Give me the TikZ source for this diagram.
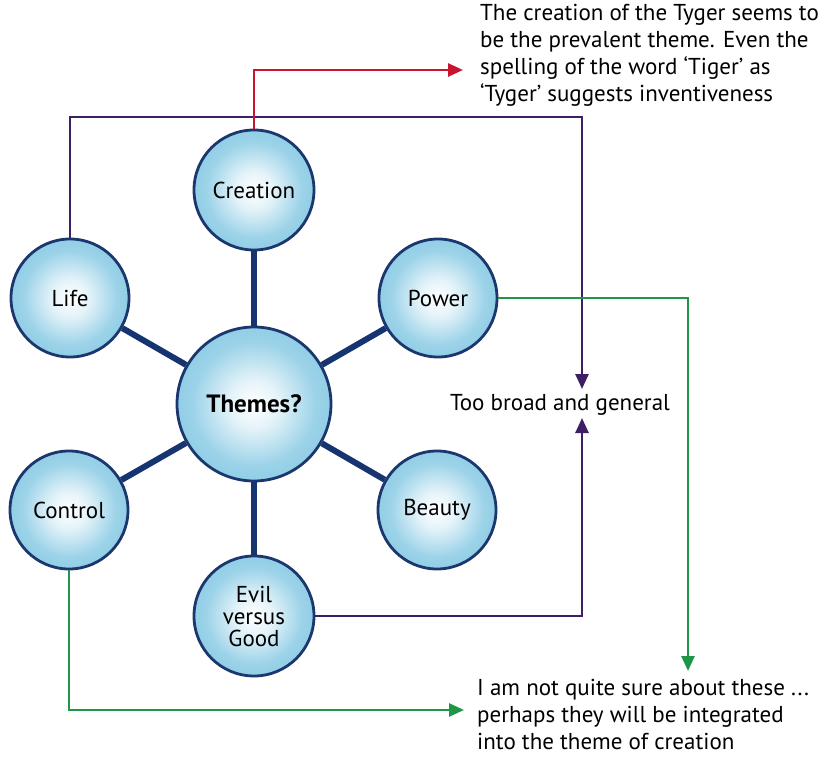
\documentclass[tikz,border=0pt]{standalone}
\usepackage{fontspec}
\setmainfont{PT Sans}
\usetikzlibrary{arrows.meta}
\definecolor{navy}{RGB}{27,55,110}
\definecolor{spokeblue}{RGB}{22,52,112}
\definecolor{ballblue}{RGB}{145,206,230}
\definecolor{redline}{RGB}{200,20,45}
\definecolor{purpleline}{RGB}{62,30,100}
\definecolor{greenline}{RGB}{30,150,70}
\pgfdeclareradialshading{ball}{\pgfpoint{0bp}{0bp}}{%
  color(0bp)=(white); color(8bp)=(white!75!ballblue);
  color(20bp)=(ballblue!90!white); color(25bp)=(ballblue); color(50bp)=(ballblue)}
\tikzset{
  ball/.style={circle, draw=navy, line width=2.8pt, shading=ball,
    minimum size=#1, inner sep=0pt, align=center,
    font=\fontsize{23}{24}\selectfont},
  ball/.default=118pt,
  spoke/.style={draw=spokeblue, line width=6pt},
  tip/.style={-{Triangle[length=15pt,width=13pt]}},
  redarrow/.style={tip, draw=redline, line width=2.6pt},
  purplearrow/.style={tip, draw=purpleline, line width=2.6pt},
  greenarrow/.style={tip, draw=greenline, line width=2.6pt},
  note/.style={align=left, inner sep=0pt, font=\fontsize{23}{27}\selectfont}
}
\begin{document}
\begin{tikzpicture}[x=1pt, y=-1pt]
\useasboundingbox (0,0) rectangle (825,757);

% centre hub and theme balls
\node[ball=154pt, font=\fontsize{25}{26}\selectfont\bfseries] (th) at (254,404) {Themes?};
\node[ball=120pt] (cr) at (254,190) {Creation};
\node[ball] (li) at (70,298) {Life};
\node[ball] (po) at (438,298) {Power};
\node[ball] (co) at (69,510) {Control};
\node[ball] (be) at (437,510) {Beauty};
\node[ball=120pt, font=\fontsize{23}{22}\selectfont] (ev) at (254,616) {Evil\\versus\\Good};

% spokes from the hub
\foreach \b in {cr,li,po,co,be,ev}
  \draw[spoke] (th) -- (\b);

% comments
\node[note, anchor=north west] (nt) at (480,4)
  {The creation of the Tyger seems to\\be the prevalent theme. Even the\\spelling of the word `Tiger' as\\`Tyger' suggests inventiveness};
\node[note, anchor=center] (nb) at (560,405) {Too broad and general};
\node[note, anchor=north west] (nu) at (477,679)
  {I am not quite sure about these ...\\perhaps they will be integrated\\into the theme of creation};

\coordinate (rt) at (463,70);
\coordinate (pd) at (582,389);
\coordinate (pu) at (582,418);
\coordinate (gd) at (688,671);
\coordinate (gl) at (464,710);

% connectors
\draw[purplearrow] (li.north) |- (582,117) -- (pd);
\draw[purplearrow] (ev.east) -| (pu);
\draw[redarrow] (cr.north) |- (rt);
\draw[greenarrow] (po.east) -| (gd);
\draw[greenarrow] (co.south) |- (gl);
\end{tikzpicture}
\end{document}
